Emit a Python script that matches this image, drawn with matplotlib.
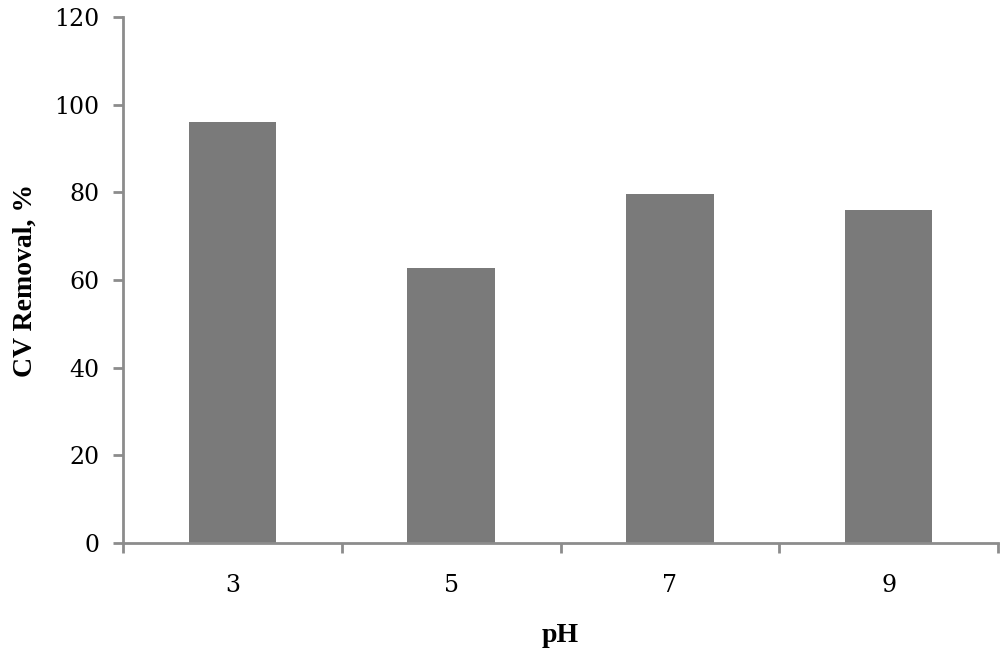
import matplotlib.pyplot as plt
import numpy as np

# data
ph_labels = ['3', '5', '7', '9']
removal = [96.0, 62.7, 79.6, 76.0]

plt.rcParams['font.family'] = ['Liberation Serif', 'DejaVu Serif']

fig = plt.figure(figsize=(10, 6.52), dpi=100)
ax = fig.add_axes([0.123, 0.167, 0.875, 0.807])

x = np.arange(len(ph_labels))
ax.bar(x, removal, width=0.4, color='#7a7a7a')

ax.set_xlim(-0.5, len(ph_labels) - 0.5)
ax.set_ylim(0, 120)
ax.set_yticks(np.arange(0, 121, 20))
ax.set_xticks(x)
ax.set_xticklabels(ph_labels)
ax.set_xticks(np.arange(-0.5, len(ph_labels), 1), minor=True)

axis_col = '#8c8c8c'
for side in ['top', 'right']:
    ax.spines[side].set_visible(False)
for side in ['left', 'bottom']:
    ax.spines[side].set_color(axis_col)
    ax.spines[side].set_linewidth(2)

ax.tick_params(axis='y', length=7, width=2, color=axis_col, pad=10)
ax.tick_params(axis='x', which='major', length=0, pad=22)
ax.tick_params(axis='x', which='minor', length=7, width=2, color=axis_col)
for lab in ax.get_xticklabels() + ax.get_yticklabels():
    lab.set_family('DejaVu Serif')
    lab.set_fontsize(17)

ax.set_xlabel('pH', fontsize=20, fontweight='bold', labelpad=19)
ax.set_ylabel('CV Removal, %', fontsize=20, fontweight='bold', labelpad=12)

fig.savefig('out.png', dpi=100)
